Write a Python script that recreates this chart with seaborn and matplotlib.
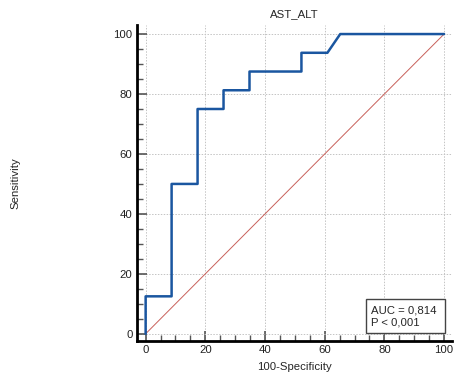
import matplotlib
matplotlib.use("Agg")
import matplotlib.pyplot as plt
import seaborn as sns
import pandas as pd
from matplotlib.ticker import MultipleLocator
from matplotlib.patches import Rectangle

# ROC curve vertices (100-Specificity, Sensitivity)
fpr = [0, 0, 8.7, 8.7, 17.4, 17.4, 26.1, 26.1, 34.8, 34.8, 52.2, 52.2, 60.9, 65.2, 100]
tpr = [0, 12.5, 12.5, 50, 50, 75, 75, 81.25, 81.25, 87.5, 87.5, 93.75, 93.75, 100, 100]
ref_x = [0, 100]
ref_y = [0, 100]
ticks = [0, 20, 40, 60, 80, 100]
title = "AST_ALT"
auc_text = "AUC = 0,814\nP < 0,001"

sns.set_theme(style="white")
plt.rcParams['font.family'] = ['Liberation Sans', 'DejaVu Sans']

fig = plt.figure(figsize=(4.61, 3.78), dpi=100)
ax = fig.add_axes([0.2965, 0.0987, 0.683, 0.835])

df = pd.DataFrame({"x": fpr, "y": tpr})
ref = pd.DataFrame({"x": ref_x, "y": ref_y})
sns.lineplot(data=ref, x="x", y="y", ax=ax, color="#c8605a", linewidth=0.7,
             sort=False, estimator=None, zorder=2)
sns.lineplot(data=df, x="x", y="y", ax=ax, color="#1a56a0", linewidth=1.8,
             sort=False, estimator=None, zorder=3)

ax.set_xlim(-3, 102.5)
ax.set_ylim(-2.3, 103)
ax.set_xticks(ticks)
ax.set_yticks(ticks)
ax.xaxis.set_minor_locator(MultipleLocator(5))
ax.yaxis.set_minor_locator(MultipleLocator(5))
ax.grid(True, which="major", color="#c4c4c4", linestyle=(0, (1.5, 1.5)), linewidth=0.7)
ax.set_axisbelow(True)

for s in ["top", "right"]:
    ax.spines[s].set_visible(False)
for s in ["left", "bottom"]:
    ax.spines[s].set_linewidth(2.0)
    ax.spines[s].set_color("black")

fs = 8.2
ax.tick_params(which="major", direction="in", length=7, width=1.2, color="#555555",
               labelsize=fs, labelcolor="#222222", pad=3, bottom=True, left=True)
ax.tick_params(which="minor", direction="in", length=4, width=1.0, color="#555555",
               bottom=True, left=True)

ax.set_title(title, fontsize=fs, pad=6)
ax.set_xlabel("100-Specificity", fontsize=fs, labelpad=5)
ax.set_ylabel("Sensitivity", fontsize=fs)
ax.yaxis.set_label_coords(-0.37, 0.5)

ax.add_patch(Rectangle((0.727, 0.025), 0.252, 0.106, transform=ax.transAxes,
                       facecolor="white", edgecolor="#444444", linewidth=1.0, zorder=5))
ax.text(0.743, 0.078, auc_text, transform=ax.transAxes, fontsize=fs,
        ha="left", va="center", linespacing=1.25, zorder=6)

fig.savefig("out.png", dpi=100)
